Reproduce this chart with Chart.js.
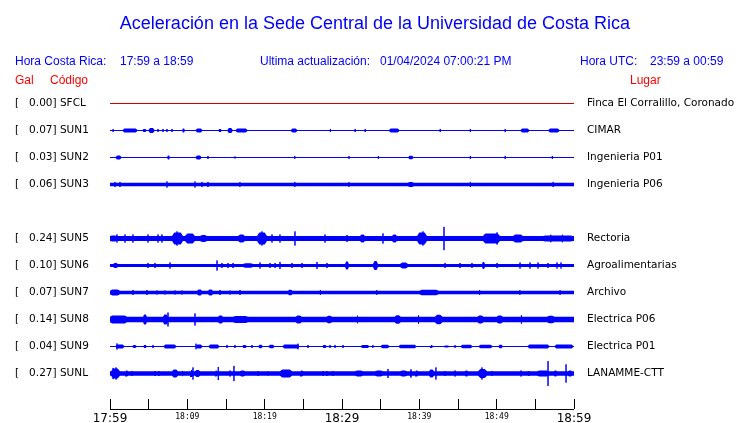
<!DOCTYPE html>
<html>
<head>
<meta charset="utf-8">
<title>Aceleración Sede Central UCR</title>
<script src="https://cdn.jsdelivr.net/npm/chart.js@4.4.1/dist/chart.umd.min.js"></script>
<style>
  body { margin: 0; background: #fff; }
  #wrap { position: relative; width: 740px; height: 423px; font-family: "Liberation Sans", Arial, sans-serif; }
  #wrap canvas { position: absolute; left: 0; top: 0; }
  .txt { position: absolute; white-space: pre; line-height: 1; font-size: 12px; color: #0000ff; }
  .red { color: #ff0000; }
  #title { left: 0; width: 750px; text-align: center; top: 14px; font-size: 18px; }
</style>
</head>
<body>
<div id="wrap">
  <canvas id="sismo" width="740" height="423"></canvas>
  <div class="txt" id="title">Aceleración en la Sede Central de la Universidad de Costa Rica</div>
  <div class="txt" style="left:15px;top:55px">Hora Costa Rica:</div>
  <div class="txt" style="left:120px;top:55px">17:59 a 18:59</div>
  <div class="txt" style="left:260px;top:55px">Ultima actualización:</div>
  <div class="txt" style="left:380px;top:55px">01/04/2024 07:00:21 PM</div>
  <div class="txt" style="left:580px;top:55px">Hora UTC:</div>
  <div class="txt" style="left:650px;top:55px">23:59 a 00:59</div>
  <div class="txt red" style="left:15px;top:74px">Gal</div>
  <div class="txt red" style="left:50px;top:74px">Código</div>
  <div class="txt red" style="left:630px;top:74px">Lugar</div>
</div>
<script>
"use strict";

// time axis: minutes after 17:59, one label every 10 minutes
var timeLabels = ["17:59", "18:09", "18:19", "18:29", "18:39", "18:49", "18:59"];

var stationCodes = ["SFCL", "SUN1", "SUN2", "SUN3", "SUN5", "SUN6", "SUN7", "SUN8", "SUN9", "SUNL"];
var stationRows = [0, 1, 2, 3, 5, 6, 7, 8, 9, 10];
var peakGal = [0.0, 0.07, 0.03, 0.06, 0.24, 0.1, 0.07, 0.14, 0.04, 0.27];
var placeNames = [
  "Finca El Corralillo, Coronado",
  "CIMAR",
  "Ingenieria P01",
  "Ingenieria P06",
  "Rectoria",
  "Agroalimentarias",
  "Archivo",
  "Electrica P06",
  "Electrica P01",
  "LANAMME-CTT",
];

// background noise level of each trace (Gal, half amplitude)
var noiseGal = [0, 0, 0, 0.037, 0.054, 0.033, 0.037, 0.061, 0, 0.048];

// bursts: [start min, end min, Gal]   spikes: [min, Gal]
var burstsSFCL = [];
var spikesSFCL = [];

var burstsSUN1 = [[1.55, 3.62, 0.043], [4.14, 4.78, 0.033], [4.91, 5.82, 0.054], [9.31, 9.7, 0.043], [10.99, 12.03, 0.043], [13.97, 14.48, 0.033], [15.13, 15.91, 0.054], [16.16, 17.85, 0.043], [23.3, 24.3, 0.043], [36.0, 37.5, 0.043], [53.0, 54.3, 0.043], [56.6, 58.2, 0.043]];
var spikesSUN1 = [[0.4, 0.03], [6.21, 0.033], [6.85, 0.033], [7.37, 0.033], [8.02, 0.033], [28.5, 0.033], [31.7, 0.033], [33.0, 0.033], [42.7, 0.033], [46.6, 0.033], [51.1, 0.033]];

var burstsSUN2 = [[0.65, 1.55, 0.043], [7.37, 7.76, 0.043], [10.99, 11.9, 0.043], [38.5, 39.3, 0.04]];
var spikesSUN2 = [[12.67, 0.033], [16.16, 0.022], [23.9, 0.03], [30.9, 0.03], [34.7, 0.03], [46.6, 0.033], [51.1, 0.033], [57.2, 0.033]];

var burstsSUN3 = [[38.5, 39.3, 0.055]];
var spikesSUN3 = [[0.65, 0.055], [1.29, 0.055], [7.37, 0.065], [10.99, 0.065], [11.9, 0.055], [12.67, 0.055], [16.8, 0.05], [23.9, 0.055], [30.9, 0.05], [46.6, 0.055], [57.3, 0.055]];

var burstsSUN5 = [[0, 0.9, 0.065], [8.02, 9.44, 0.13], [9.7, 10.99, 0.109], [11.64, 12.54, 0.076], [16.55, 17.46, 0.087], [19.01, 20.3, 0.13], [32.33, 32.97, 0.087], [36.47, 37.11, 0.087], [39.7, 40.99, 0.13], [48.23, 50.43, 0.109], [52.11, 53.41, 0.087], [55.99, 59.87, 0.062]];
var spikesSUN5 = [[0.9, 0.087], [1.94, 0.087], [2.97, 0.087], [4.91, 0.087], [6.21, 0.087], [6.72, 0.087], [8.66, 0.152], [19.65, 0.152], [20.95, 0.087], [21.98, 0.087], [23.92, 0.152], [27.8, 0.087], [30.65, 0.076], [35.3, 0.109], [40.47, 0.152], [43.19, 0.25], [50.05, 0.13], [57.0, 0.08], [58.5, 0.08]];

var burstsSUN6 = [[0.4, 1.03, 0.054], [17.2, 18.49, 0.05], [30.39, 30.9, 0.087], [34.0, 34.66, 0.094], [37.5, 38.54, 0.065], [48.1, 48.49, 0.076]];
var spikesSUN6 = [[4.91, 0.054], [5.82, 0.054], [7.76, 0.065], [13.84, 0.109], [14.48, 0.054], [15.26, 0.054], [15.91, 0.054], [19.4, 0.065], [20.69, 0.054], [21.34, 0.054], [21.98, 0.076], [23.54, 0.054], [24.83, 0.054], [26.77, 0.076], [28.06, 0.054], [43.32, 0.054], [45.26, 0.054], [46.81, 0.054], [50.05, 0.054], [53.02, 0.065], [54.31, 0.065], [55.35, 0.065], [56.64, 0.054], [57.8, 0.065], [58.32, 0.065]];

var burstsSUN7 = [[0, 1.29, 0.065], [11.25, 11.9, 0.065], [12.67, 13.32, 0.065], [23.0, 23.6, 0.06], [40.0, 42.5, 0.06]];
var spikesSUN7 = [[2.97, 0.054], [4.78, 0.054], [6.08, 0.043], [7.11, 0.043], [8.4, 0.043], [9.31, 0.043], [14.22, 0.054], [15.52, 0.043], [16.81, 0.054], [27.2, 0.05], [34.5, 0.05], [47.8, 0.05], [53.0, 0.05], [58.2, 0.05]];

var burstsSUN8 = [[0, 2.2, 0.087], [4.27, 4.78, 0.109], [6.85, 7.5, 0.109], [13.97, 14.61, 0.087], [15.91, 17.85, 0.076], [24.0, 24.8, 0.087], [28.0, 28.7, 0.08], [36.8, 37.6, 0.09], [42.0, 43.0, 0.1], [47.5, 48.3, 0.087], [50.0, 50.8, 0.087], [56.5, 57.5, 0.08]];
var spikesSUN8 = [[7.5, 0.15], [10.99, 0.13], [32.0, 0.08], [39.9, 0.09], [53.2, 0.09]];

var burstsSUN9 = [[0.65, 1.94, 0.043], [2.85, 3.49, 0.033], [4.27, 4.78, 0.033], [6.85, 8.66, 0.043], [11.0, 12.03, 0.043], [12.67, 14.22, 0.043], [17.07, 17.72, 0.033], [19.14, 19.78, 0.04], [20.43, 21.34, 0.04], [22.24, 24.57, 0.043], [27.42, 28.06, 0.033], [32.33, 33.62, 0.033], [34.91, 36.21, 0.04], [37.24, 39.7, 0.04], [41.38, 41.77, 0.033], [43.06, 43.97, 0.02], [45.26, 46.94, 0.04], [47.59, 49.53, 0.04], [50.18, 50.83, 0.04], [53.93, 56.9, 0.043], [57.41, 59.99, 0.043]];
var spikesSUN9 = [[0.9, 0.065], [5.56, 0.033], [11.12, 0.06], [15.13, 0.033], [16.16, 0.033], [18.36, 0.033], [24.31, 0.06], [25.6, 0.033], [28.45, 0.033], [29.1, 0.033], [30.13, 0.033], [33.99, 0.03], [44.62, 0.03]];

var burstsSUNL = [[0.13, 1.29, 0.109], [1.94, 2.33, 0.065], [8.02, 8.79, 0.087], [9.31, 9.44, 0.065], [10.35, 10.73, 0.076], [10.99, 11.64, 0.076], [13.58, 13.84, 0.065], [16.81, 17.46, 0.065], [21.98, 23.54, 0.087], [24.57, 24.96, 0.065], [31.68, 32.72, 0.065], [34.27, 35.3, 0.065], [37.5, 38.41, 0.065], [38.79, 39.05, 0.098], [39.44, 39.83, 0.065], [41.25, 41.9, 0.087], [45.9, 46.29, 0.065], [47.59, 48.75, 0.098], [55.22, 56.77, 0.065], [57.41, 57.8, 0.065], [59.23, 59.74, 0.065]];
var spikesSUNL = [[0.4, 0.12], [0.78, 0.13], [2.85, 0.054], [5.82, 0.054], [6.34, 0.054], [10.73, 0.13], [14.0, 0.14], [15.52, 0.065], [16.03, 0.163], [19.14, 0.054], [20.43, 0.043], [27.55, 0.054], [28.06, 0.054], [28.84, 0.054], [35.95, 0.098], [42.15, 0.13], [43.32, 0.054], [44.62, 0.065], [48.1, 0.13], [49.4, 0.054], [53.15, 0.065], [54.18, 0.054], [56.64, 0.267], [58.97, 0.196]];

var stationBursts = [burstsSFCL, burstsSUN1, burstsSUN2, burstsSUN3, burstsSUN5, burstsSUN6, burstsSUN7, burstsSUN8, burstsSUN9, burstsSUNL];
var stationSpikes = [spikesSFCL, spikesSUN1, spikesSUN2, spikesSUN3, spikesSUN5, spikesSUN6, spikesSUN7, spikesSUN8, spikesSUN9, spikesSUNL];

// vertical scale: one trace row = 0.58 Gal
var GAL_PER_ROW = 0.58;
var TOTAL_MIN = 60;

function buildEnvelope(row, noise, bursts, sign) {
  let base = row + (sign * noise) / GAL_PER_ROW;
  let pts = [{ x: 0, y: base }];
  bursts.forEach((b) => {
    let top = row + (sign * b[2]) / GAL_PER_ROW;
    // short ramp on each side so a burst looks like a spindle, not a box
    let ramp = Math.min((b[1] - b[0]) * 0.3, 0.3);
    pts.push(
      { x: b[0], y: base },
      { x: b[0] + ramp, y: top },
      { x: b[1] - ramp, y: top },
      { x: b[1], y: base }
    );
  });
  pts.push({ x: TOTAL_MIN, y: base });
  return pts;
}

function buildSpikes(row, spikes) {
  let pts = [{ x: 0, y: row }];
  spikes
    .slice()
    .sort((a, b) => a[0] - b[0])
    .forEach((s) => {
      let d = s[1] / GAL_PER_ROW;
      pts.push({ x: s[0], y: row }, { x: s[0], y: row - d }, { x: s[0], y: row + d }, { x: s[0], y: row });
    });
  pts.push({ x: TOTAL_MIN, y: row });
  return pts;
}

/**
 * ========================
 * datasets, one group per trace
 * ========================
 */
let datasets = [];
stationCodes.forEach((code, idx) => {
  let row = stationRows[idx];
  let color = code === "SFCL" ? "#cc0000" : "#0000ff";
  let bursts = stationBursts[idx].slice().sort((a, b) => a[0] - b[0]);

  datasets.push({
    label: code + " sup",
    data: buildEnvelope(row, noiseGal[idx], bursts, -1),
    borderColor: color,
    backgroundColor: color,
    borderWidth: 0,
    fill: "+1",
  });
  datasets.push({
    label: code + " inf",
    data: buildEnvelope(row, noiseGal[idx], bursts, 1),
    borderColor: color,
    backgroundColor: color,
    borderWidth: 0,
    fill: false,
  });
  datasets.push({
    label: code,
    data: buildSpikes(row, stationSpikes[idx]),
    borderColor: color,
    borderWidth: 1,
    fill: false,
  });
});

function rowIndex(value) {
  return stationRows.indexOf(Math.round(value));
}

// axis base line under the tick marks
var axisLinePlugin = {
  id: "axisLine",
  afterDraw: function (chart) {
    let xs = chart.scales.x;
    let ctx = chart.ctx;
    let y = Math.round(xs.top + xs.options.grid.tickLength) + 0.5;
    ctx.save();
    ctx.strokeStyle = "#000";
    ctx.lineWidth = 1;
    ctx.beginPath();
    ctx.moveTo(xs.left, y);
    ctx.lineTo(xs.right, y);
    ctx.stroke();
    ctx.restore();
  },
};

// rows fall on pixel centres so the 1px traces stay crisp
var rowMin = -13.5 / 27;
var rowMax = 295.5 / 27;

new Chart(document.getElementById("sismo"), {
  type: "line",
  data: { datasets: datasets },
  plugins: [axisLinePlugin],
  options: {
    responsive: false,
    animation: false,
    events: [],
    layout: { padding: { left: 15, top: 90, right: 0, bottom: 0 } },
    elements: {
      point: { radius: 0 },
      line: { tension: 0 },
    },
    plugins: {
      legend: { display: false },
      tooltip: { enabled: false },
      title: { display: false },
    },
    scales: {
      x: {
        type: "linear",
        position: "bottom",
        min: 0,
        max: TOTAL_MIN,
        afterFit: function (scale) {
          scale.height = 24;
        },
        border: { display: false },
        grid: {
          drawOnChartArea: false,
          drawTicks: true,
          tickLength: 10,
          color: "#000",
          lineWidth: 1,
        },
        ticks: {
          stepSize: 5,
          autoSkip: false,
          maxRotation: 0,
          padding: 3,
          color: "#000",
          font: function (ctx) {
            if (ctx.tick && ctx.tick.value % 30 === 0) {
              return { family: "DejaVu Sans", size: 12 };
            }
            return { family: "DejaVu Sans Mono", size: 8 };
          },
          callback: function (value) {
            if (value % 10 !== 0) return "";
            return timeLabels[value / 10];
          },
        },
      },
      y: {
        type: "linear",
        position: "left",
        reverse: true,
        min: rowMin,
        max: rowMax,
        afterFit: function (scale) {
          scale.width = 95;
        },
        afterBuildTicks: function (scale) {
          scale.ticks = stationRows.map((r) => ({ value: r }));
        },
        border: { display: false },
        grid: { display: false },
        ticks: {
          autoSkip: false,
          crossAlign: "far",
          padding: 0,
          color: "#000",
          font: { family: "DejaVu Sans", size: 10.5 },
          callback: function (value) {
            let i = rowIndex(value);
            if (i < 0) return "";
            return "[   " + peakGal[i].toFixed(2) + "] " + stationCodes[i];
          },
        },
      },
      y2: {
        type: "linear",
        position: "right",
        reverse: true,
        min: rowMin,
        max: rowMax,
        afterFit: function (scale) {
          scale.width = 166;
        },
        afterBuildTicks: function (scale) {
          scale.ticks = stationRows.map((r) => ({ value: r }));
        },
        border: { display: false },
        grid: { display: false, drawTicks: false },
        ticks: {
          autoSkip: false,
          crossAlign: "near",
          padding: 13,
          color: "#000",
          font: { family: "DejaVu Sans", size: 10.5 },
          callback: function (value) {
            let i = rowIndex(value);
            if (i < 0) return "";
            return placeNames[i];
          },
        },
      },
    },
  },
});
</script>
</body>
</html>
